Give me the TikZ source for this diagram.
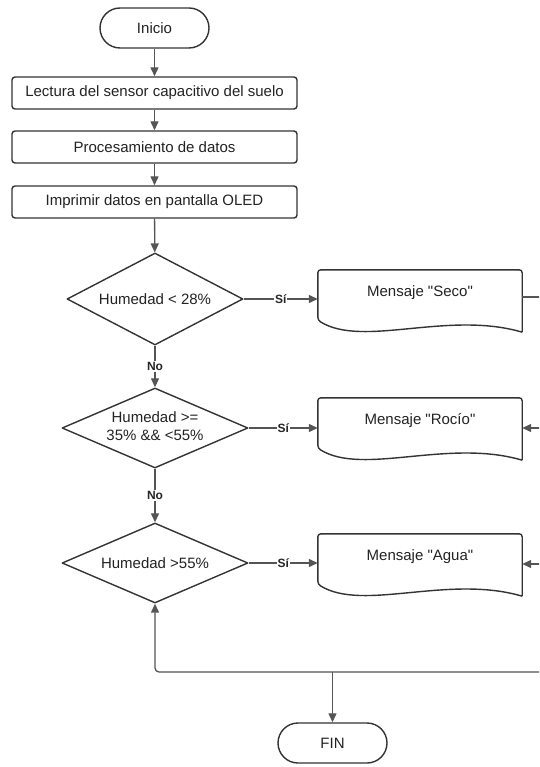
\documentclass[tikz,border=0pt]{standalone}
\usepackage{fontspec}
\setmainfont{Liberation Sans}[Ligatures=TeXOff]
\usetikzlibrary{arrows.meta,shapes.geometric,calc}
\definecolor{ln}{HTML}{555555}
\definecolor{sh}{HTML}{333333}
\definecolor{tx}{HTML}{222222}
\newcommand\docdraw[1]{%
  \draw[shapeline] ($(#1.south east)+(0,16)$) [rounded corners=3pt] -- (#1.north east) -- (#1.north west) -- ($(#1.south west)+(0,4)$) [sharp corners]
    .. controls ($(#1.south west)+(45,32)$) and ($(#1.south west)+(130,-6)$) .. ($(#1.south east)+(0,16)$);}
\begin{document}
\begin{tikzpicture}[x=1pt,y=-1pt,
  font=\fontsize{15}{18}\selectfont, text=tx, line join=round,
  shapeline/.style={draw=sh, line width=1.4pt},
  proc/.style={shapeline, rectangle, rounded corners=3pt, minimum width=285pt, minimum height=32pt, inner sep=0pt},
  term/.style={shapeline, rectangle, rounded corners=20pt, minimum width=109pt, minimum height=40pt, inner sep=0pt},
  decision/.style={shapeline, diamond, inner sep=0pt},
  docbox/.style={rectangle, minimum width=204pt, minimum height=46pt, inner sep=0pt},
  conn/.style={draw=ln, line width=1.3pt, -{Triangle[length=9pt,width=8pt]}},
  plain/.style={draw=ln, line width=1.3pt},
  lbl/.style={fill=white, font=\bfseries\fontsize{12}{14}\selectfont, inner sep=1pt, text=black!85}
]
\clip (0,0) rectangle (539,767);

% terminators and processes
\node[term] (start) at (154.5,28) {Inicio};
\node[proc] (b1) at (154.5,93) {Lectura del sensor capacitivo del suelo};
\node[proc] (b2) at (154.5,147) {Procesamiento de datos};
\node[proc] (b3) at (154.5,202) {Imprimir datos en pantalla OLED};

% decisions
\node[decision, minimum width=176pt, minimum height=92pt] (q1) at (155,299) {};
\node (q1t) at (q1) {Humedad < 28\%};
\node[decision, minimum width=186pt, minimum height=80pt] (q2) at (155,428) {};
\node[align=center] (q2t) at (155,426) {Humedad >=\\35\% \&\& <55\%};
\node[decision, minimum width=186pt, minimum height=80pt] (q3) at (155,563) {};
\node (q3t) at (q3) {Humedad >55\%};

% documents
\node[docbox] (d1) at (420,293) {Mensaje "Seco"};
\docdraw{d1}
\node[docbox] (d2) at (420,421) {Mensaje "Rocío"};
\docdraw{d2}
\node[docbox] (d3) at (420,557) {Mensaje "Agua"};
\docdraw{d3}

\node[term] (fin) at (332.5,743) {FIN};

% connectors
\draw[conn] (start) -- (b1);
\draw[conn] (b1) -- (b2);
\draw[conn] (b2) -- (b3);
\draw[conn] (b3) -- (q1);
\draw[conn] (q1) -- node[lbl]{No} (q2);
\draw[conn] (q2) -- node[lbl]{No} (q3);
\draw[conn] (q1.east) -- node[lbl]{Sí} (q1.east -| d1.west);
\draw[conn] (q2.east) -- node[lbl]{Sí} (q2.east -| d2.west);
\draw[conn] (q3.east) -- node[lbl]{Sí} (q3.east -| d3.west);

\coordinate (e1) at (541,297);
\coordinate (e2) at (541,428);
\coordinate (e3) at (541,564);
\coordinate (e4) at (541,672);
\draw[plain] (d1.east |- e1) -- (e1);
\draw[conn] (e2) -- (e2 -| d2.east);
\draw[conn] (e3) -- (e3 -| d3.east);
\draw[conn, rounded corners=4pt] (e4) -- (e4 -| q3.south) -- (q3.south);
\draw[conn] (e4 -| fin.north) -- (fin.north);
\end{tikzpicture}
\end{document}
